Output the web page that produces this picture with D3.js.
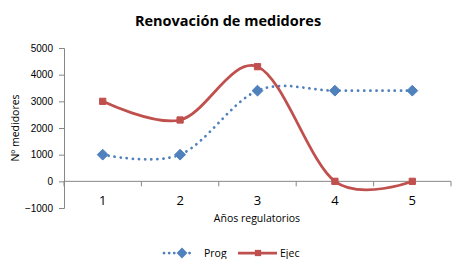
<!DOCTYPE html>
<html>
<head>
<meta charset="utf-8">
<script src="https://cdn.jsdelivr.net/npm/d3@7"></script>
<style>
  body { margin: 0; background: #fff; }
  svg { display: block; font-family: "Open Sans", "Liberation Sans", sans-serif; }
</style>
</head>
<body>
<div id="chart"></div>
<script>
const years = ['1', '2', '3', '4', '5'];
const prog = [1000, 1000, 3400, 3400, 3400];
const ejec = [3000, 2300, 4300, 0, 0];
const yTicks = [-1000, 0, 1000, 2000, 3000, 4000, 5000];

const width = 452, height = 259;
const plot = { left: 64, right: 451, top: 48, bottom: 208 };

const svg = d3.select('#chart').append('svg')
  .attr('width', width)
  .attr('height', height);

const x = d3.scaleBand().domain(years).range([plot.left, plot.right]).padding(0);
const y = d3.scaleLinear().domain([-1000, 5000]).range([plot.bottom, plot.top]);
const cx = d => x(d) + x.bandwidth() / 2;

// title
svg.append('text')
  .attr('x', 228).attr('y', 26)
  .attr('text-anchor', 'middle')
  .style('font-size', '14.5px')
  .style('font-weight', 'bold')
  .text('Renovación de medidores');

// y axis
const yAxis = svg.append('g')
  .attr('transform', `translate(${plot.left},0)`)
  .call(d3.axisLeft(y).tickValues(yTicks).tickFormat(d3.format('d')).tickSize(5).tickPadding(6));
yAxis.select('.domain').attr('stroke', '#868686');
yAxis.selectAll('.tick line').attr('stroke', '#868686');
yAxis.selectAll('.tick text').style('font-size', '10px').attr('fill', '#000');

// x axis at zero
const xAxis = svg.append('g')
  .attr('transform', `translate(0,${y(0)})`);
xAxis.append('line')
  .attr('x1', plot.left).attr('x2', plot.right)
  .attr('stroke', '#868686');
xAxis.selectAll('.xtick')
  .data(years.concat(['end']))
  .enter().append('line')
  .attr('x1', (d, i) => i < years.length ? x(d) : plot.right)
  .attr('x2', (d, i) => i < years.length ? x(d) : plot.right)
  .attr('y1', 0).attr('y2', 5)
  .attr('stroke', '#868686');

svg.selectAll('.xlabel')
  .data(years)
  .enter().append('text')
  .attr('x', d => cx(d))
  .attr('y', 205)
  .attr('text-anchor', 'middle')
  .style('font-size', '13px')
  .text(d => d);

// axis titles
svg.append('text')
  .attr('x', 257).attr('y', 222)
  .attr('text-anchor', 'middle')
  .style('font-size', '10.5px')
  .text('Años regulatorios');

svg.append('text')
  .attr('transform', `translate(19,128) rotate(-90)`)
  .attr('text-anchor', 'middle')
  .style('font-size', '10.5px')
  .text('Nº medidores');

// lines
const line = d3.line()
  .x((d, i) => cx(years[i]))
  .y(d => y(d))
  .curve(d3.curveCardinal.tension(0));

svg.append('path')
  .datum(prog)
  .attr('d', line)
  .attr('fill', 'none')
  .attr('stroke', '#4F81BD')
  .attr('stroke-width', 2.75)
  .attr('stroke-linecap', 'round')
  .attr('stroke-dasharray', '0.1 6');

svg.append('path')
  .datum(ejec)
  .attr('d', line)
  .attr('fill', 'none')
  .attr('stroke', '#C0504D')
  .attr('stroke-width', 2.75);

const diamond = d3.symbol().type(d3.symbolDiamond2).size(75);
const square = d3.symbol().type(d3.symbolSquare2).size(50);

svg.selectAll('.mprog')
  .data(prog)
  .enter().append('path')
  .attr('d', diamond)
  .attr('transform', (d, i) => `translate(${cx(years[i])},${y(d)})`)
  .attr('fill', '#4F81BD')
  .attr('stroke', '#4F81BD');

svg.selectAll('.mejec')
  .data(ejec)
  .enter().append('path')
  .attr('d', square)
  .attr('transform', (d, i) => `translate(${cx(years[i])},${y(d)})`)
  .attr('fill', '#C0504D')
  .attr('stroke', '#C0504D');

// legend
const ly = 253;
const legend = svg.append('g');
legend.append('line')
  .attr('x1', 164).attr('x2', 194).attr('y1', ly).attr('y2', ly)
  .attr('stroke', '#4F81BD').attr('stroke-width', 2.75)
  .attr('stroke-linecap', 'round').attr('stroke-dasharray', '0.1 5');
legend.append('path')
  .attr('d', diamond)
  .attr('transform', `translate(182,${ly})`)
  .attr('fill', '#4F81BD');
legend.append('text')
  .attr('x', 204).attr('y', ly + 4)
  .style('font-size', '10.5px')
  .text('Prog');

legend.append('line')
  .attr('x1', 238).attr('x2', 277).attr('y1', ly).attr('y2', ly)
  .attr('stroke', '#C0504D').attr('stroke-width', 2.75);
legend.append('path')
  .attr('d', square)
  .attr('transform', `translate(258,${ly})`)
  .attr('fill', '#C0504D');
legend.append('text')
  .attr('x', 280).attr('y', ly + 4)
  .style('font-size', '10.5px')
  .text('Ejec');
</script>
</body>
</html>
